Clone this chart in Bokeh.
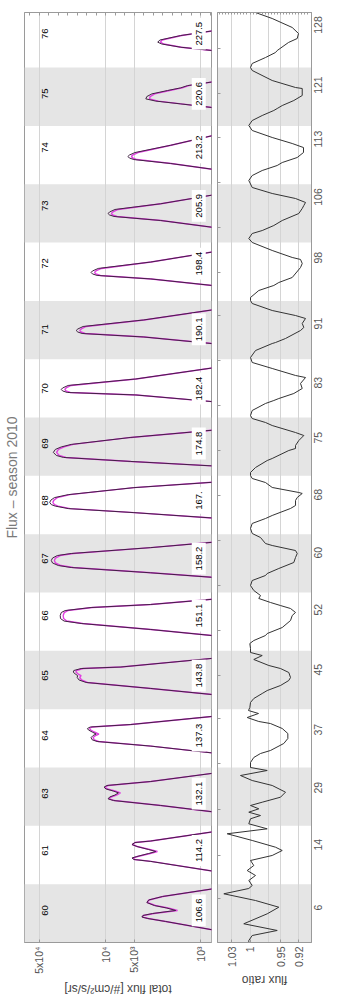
from math import pi
from bokeh.plotting import figure
from bokeh.models import (Range1d, FixedTicker, LinearAxis, LogAxis, Label,
                          ColumnDataSource, BoxAnnotation)
from bokeh.layouts import row, column
from bokeh.embed import file_html
from bokeh.resources import INLINE

FONT = "Liberation Sans"

# ---------------- data ----------------
band_ids = ["60", "61", "63", "64", "65", "66", "67", "68",
            "69", "70", "71", "72", "73", "74", "75", "76"]
band_values = ["106.6", "114.2", "132.1", "137.3", "143.8", "151.1", "158.2", "167.",
               "174.8", "182.4", "190.1", "198.4", "205.9", "213.2", "220.6", "227.5"]
tick_labels = ["6", "14", "29", "37", "45", "52", "60", "68",
               "75", "83", "91", "98", "106", "113", "121", "128"]
# centre of each run along the (band-index) time axis
tick_pos = [0.549, 1.577, 2.554, 3.549, 4.577, 5.606, 6.583, 7.578,
            8.555, 9.498, 10.51, 11.64, 12.63, 13.63, 14.55, 15.58]
minor_tick_pos = [0.754, 1.491, 2.28, 3.069, 3.84, 4.577, 5.349, 6.12, 6.892, 7.663,
                  8.435, 9.206, 9.978, 10.749, 11.486, 12.258, 13.03, 13.8, 14.55, 15.33]

flux_ticks = [1000, 5000, 10000, 50000]
flux_tick_text = {1000: "10³", 5000: "5x10³", 10000: "10⁴", 50000: "5x10⁴"}
ratio_ticks = [0.92, 0.95, 1.0, 1.03]
ratio_grid = [0.92, 0.95, 0.97, 1.0, 1.03]
ratio_tick_text = {0.92: "0.92", 0.95: "0.95", 1.0: "1", 1.03: "1.03"}

t_flux = [
    0.189, 0.360, 0.411, 0.437, 0.463, 0.497, 0.549, 0.591, 0.634, 0.686, 0.729, 0.789, 0.943,
    1.200, 1.390, 1.423, 1.449, 1.474, 1.526, 1.560, 1.594, 1.646, 1.680, 1.714, 1.740, 1.920,
    2.222, 2.349, 2.434, 2.463, 2.494, 2.528, 2.566, 2.597, 2.632, 2.663, 2.692, 2.760, 2.921,
    3.232, 3.367, 3.446, 3.475, 3.514, 3.549, 3.574, 3.609, 3.643, 3.669, 3.694, 3.737, 3.892,
    4.235, 4.355, 4.458, 4.500, 4.543, 4.577, 4.603, 4.637, 4.663, 4.697, 4.723, 4.886,
    5.246, 5.366, 5.469, 5.511, 5.554, 5.606, 5.657, 5.691, 5.743, 5.795, 5.898,
    6.249, 6.338, 6.429, 6.463, 6.506, 6.549, 6.591, 6.634, 6.669, 6.770, 6.875,
    7.267, 7.370, 7.439, 7.481, 7.507, 7.546, 7.584, 7.627, 7.678, 7.798, 7.901,
    8.162, 8.247, 8.316, 8.350, 8.402, 8.453, 8.496, 8.539, 8.659, 8.797,
    9.259, 9.387, 9.430, 9.456, 9.482, 9.507, 9.550, 9.661, 9.873,
    10.252, 10.381, 10.441, 10.466, 10.492, 10.518, 10.561, 10.673, 10.869,
    11.247, 11.376, 11.436, 11.462, 11.487, 11.513, 11.556, 11.666, 11.864,
    12.241, 12.378, 12.447, 12.473, 12.498, 12.524, 12.567, 12.665, 12.841,
    13.235, 13.355, 13.423, 13.449, 13.475, 13.500, 13.543, 13.668, 13.869,
    14.296, 14.377, 14.425, 14.463, 14.503, 14.549, 14.606, 14.652, 14.691, 14.777,
    15.275, 15.349, 15.404, 15.435, 15.472, 15.549, 15.652,
]
flux_total = [
    600, 2330, 3600, 4160, 4060, 3200, 1830, 2270, 3070, 3690, 3520, 2510, 600,
    600, 3350, 5050, 5290, 4700, 3520, 2970, 3520, 4700, 5290, 4920, 3350, 600,
    600, 2630, 8300, 9450, 9100, 8000, 7350, 8330, 9930, 10430, 9700, 3350, 600,
    600, 3350, 12330, 13900, 14270, 13590, 12640, 13900, 15200, 15600, 14600, 5430, 600,
    600, 3350, 16100, 19100, 20000, 19800, 21000, 22000, 21700, 18170, 6900, 600,
    600, 3350, 18170, 27500, 30000, 30200, 29450, 26800, 14270, 3350, 600,
    600, 3350, 23140, 31600, 36400, 37500, 36400, 32400, 23140, 3350, 600,
    600, 5050, 24900, 34000, 37500, 39000, 37900, 34800, 24900, 5050, 600,
    600, 5430, 28000, 33200, 35700, 34000, 29450, 23140, 5430, 600,
    600, 4811, 25470, 28500, 29450, 28500, 24900, 4811, 600,
    600, 3964, 17740, 19700, 20500, 19700, 17330, 3964, 600,
    600, 3350, 12330, 13800, 14270, 13800, 12000, 3350, 600,
    600, 2630, 8170, 9120, 9450, 9120, 7990, 2630, 600,
    600, 2064, 5050, 5630, 5835, 5630, 4925, 2064, 600,
    600, 1621, 2966, 3778, 3690, 3260, 2234, 1621, 1370, 600,
    600, 1621, 2565, 2830, 2690, 1621, 600,
]
flux_model = [
    600, 2330, 3550, 4100, 4000, 3100, 1750, 2200, 3000, 3650, 3500, 2500, 600,
    600, 3330, 4950, 5150, 4600, 3400, 2850, 3450, 4650, 5250, 4900, 3350, 600,
    600, 2630, 8100, 9200, 8800, 7700, 7000, 8000, 9600, 10100, 9400, 3350, 600,
    600, 3330, 11900, 13200, 13600, 12800, 11800, 13200, 14400, 14800, 14000, 5430, 600,
    600, 3330, 15600, 18000, 18800, 18200, 19500, 20600, 20400, 17300, 6900, 600,
    600, 3330, 17500, 25800, 27800, 28100, 27400, 25200, 13800, 3350, 600,
    600, 3330, 22000, 29700, 33900, 34800, 33900, 30300, 22000, 3350, 600,
    600, 5000, 23700, 31800, 34800, 36100, 35200, 32500, 23800, 5050, 600,
    600, 5400, 26300, 31000, 33000, 31500, 27500, 22000, 5430, 600,
    600, 4750, 23700, 26300, 27000, 26200, 23200, 4780, 600,
    600, 3900, 16500, 18200, 18800, 18100, 16100, 3940, 600,
    600, 3300, 11400, 12700, 13100, 12700, 11100, 3330, 600,
    600, 2600, 7600, 8450, 8700, 8400, 7400, 2620, 600,
    600, 2040, 4700, 5200, 5350, 5200, 4580, 2050, 600,
    600, 1600, 2800, 3460, 3400, 3050, 2120, 1560, 1330, 600,
    600, 1600, 2450, 2650, 2550, 1580, 600,
]

t_ratio = [
    0.000, 0.034, 0.120, 0.206, 0.321, 0.492, 0.605, 0.720, 0.835, 0.926, 0.977,
    1.063, 1.149, 1.234, 1.320, 1.406, 1.492, 1.577, 1.634, 1.749, 1.864, 1.949,
    2.035, 2.121, 2.177, 2.234, 2.292, 2.349, 2.405, 2.491, 2.577, 2.692, 2.777, 2.863, 2.949,
    3.000, 3.086, 3.172, 3.240, 3.292, 3.412, 3.497, 3.583, 3.669, 3.754, 3.789, 3.857, 3.926, 3.977,
    4.029, 4.115, 4.183, 4.269, 4.320, 4.406, 4.492, 4.543, 4.629, 4.697, 4.749, 4.852, 4.920, 4.972,
    5.040, 5.126, 5.177, 5.263, 5.297, 5.400, 5.520, 5.606, 5.658, 5.726, 5.777, 5.829, 5.898, 5.949,
    6.035, 6.120, 6.206, 6.292, 6.326, 6.412, 6.515, 6.601, 6.669, 6.720, 6.806, 6.840, 6.943,
    7.012, 7.098, 7.184, 7.269, 7.321, 7.441, 7.492, 7.578, 7.629, 7.698, 7.715, 7.801, 7.886, 7.955,
    8.006, 8.058, 8.143, 8.263, 8.298, 8.435, 8.469, 8.521, 8.606, 8.692, 8.743, 8.863, 8.915, 8.983,
    9.035, 9.121, 9.241, 9.292, 9.326, 9.412, 9.498, 9.584, 9.686, 9.721, 9.841, 9.944,
    10.029, 10.149, 10.269, 10.286, 10.355, 10.492, 10.544, 10.613, 10.698, 10.749, 10.835, 10.955,
    11.006, 11.058, 11.178, 11.264, 11.315, 11.401, 11.572, 11.641, 11.710, 11.744, 11.864,
    12.001, 12.069, 12.155, 12.206, 12.292, 12.378, 12.498, 12.584, 12.635, 12.687, 12.755, 12.841, 12.944,
    13.064, 13.149, 13.235, 13.321, 13.372, 13.458, 13.544, 13.629, 13.698, 13.801, 13.921,
    14.007, 14.092, 14.178, 14.264, 14.298, 14.349, 14.435, 14.521, 14.641, 14.658, 14.778, 14.950,
    15.001, 15.070, 15.172, 15.258, 15.292, 15.430, 15.498, 15.584, 15.687, 15.841, 15.944, 16.010,
]
ratio = [
    1.002, 1.002, 0.9964, 0.9554, 1.0102, 0.9718, 0.9528, 0.991, 1.0429, 1.002, 0.9964,
    1.002, 0.991, 1.0046, 0.9938, 0.9992, 0.9636, 0.9472, 0.9582, 0.9964, 1.0374, 0.9718,
    1.002, 0.9992, 0.9828, 1.002, 0.9856, 0.9992, 0.980, 0.950, 0.9418, 0.9636, 0.9964, 1.0156, 0.9718,
    0.9992, 0.9992, 0.9938, 0.9828, 0.9664, 0.9446, 0.938, 0.938, 0.9472, 0.9664, 0.9856, 1.0046, 0.9861, 1.0025,
    1.0003, 0.9992, 0.9938, 0.980, 0.9718, 0.950, 0.9364, 0.9336, 0.9364, 0.950, 0.9692, 0.9938, 0.980, 0.9992,
    0.9992, 1.0003, 0.9938, 0.9746, 0.9718, 0.9472, 0.9336, 0.9308, 0.9254, 0.9336, 0.950, 0.9664, 0.9856, 0.9828,
    0.9938, 0.9992, 0.9964, 0.9746, 0.9718, 0.9528, 0.9282, 0.9254, 0.9226, 0.9254, 0.9636, 0.9746, 0.9828,
    0.9964, 0.9992, 0.9964, 0.9746, 0.9636, 0.9336, 0.9254, 0.9254, 0.9226, 0.9144, 0.920, 0.9636, 0.9746, 0.9964,
    0.9992, 0.9992, 0.991, 0.9718, 0.9636, 0.9364, 0.9254, 0.9254, 0.920, 0.9118, 0.9254, 0.9636, 0.9746, 0.9964,
    0.9992, 0.9964, 0.9746, 0.961, 0.9528, 0.9282, 0.9144, 0.9172, 0.909, 0.9254, 0.9636, 0.9964,
    0.9992, 0.991, 0.9636, 0.9582, 0.9418, 0.9172, 0.9118, 0.9144, 0.909, 0.9254, 0.9636, 0.9964,
    0.9992, 0.9992, 0.9856, 0.961, 0.9528, 0.9308, 0.9172, 0.9144, 0.9172, 0.9308, 0.9636,
    0.9964, 1.002, 0.9964, 0.980, 0.961, 0.9472, 0.920, 0.9144, 0.9118, 0.909, 0.9254, 0.9636, 0.9964,
    1.002, 0.9964, 0.980, 0.9554, 0.9472, 0.9226, 0.9123, 0.9123, 0.9308, 0.9636, 0.9964,
    1.002, 0.9964, 0.980, 0.961, 0.9554, 0.9472, 0.9282, 0.9144, 0.9144, 0.9254, 0.9636, 0.9964,
    0.9992, 0.9964, 0.9746, 0.9582, 0.9554, 0.9369, 0.9226, 0.9205, 0.9308, 0.9636, 0.991, 0.9992,
]

# ---------------- layout constants ----------------
T_MIN, T_MAX = 0.0, 15.944
FLUX_LO, FLUX_HI = 767, 71900
R_LO, R_HI = 0.8992, 1.0533
BAND_FILL = "#e5e5e5"
GRID = "#d4d4d4"
FRAME = "#9a9a9a"
TICK_TXT = "#555555"
# unlabelled mirror ticks on the top edges
flux_edge_ticks = [10 ** (k / 10) for k in range(28, 50)]
ratio_edge_ticks = [round(0.895 + 0.005 * k, 3) for k in range(33)]


def style_bottom_axis(ax):
    ax.major_label_orientation = pi / 2
    ax.major_label_text_font = FONT
    ax.major_label_text_font_size = "10.5px"
    ax.major_label_text_color = TICK_TXT
    ax.major_label_standoff = 4
    ax.major_tick_in = 3
    ax.major_tick_out = 0
    ax.minor_tick_line_color = None
    ax.major_tick_line_color = FRAME
    ax.axis_line_color = FRAME


def style_edge_axis(ax):
    ax.minor_tick_in = 3
    ax.minor_tick_out = 0
    ax.minor_tick_line_color = FRAME
    ax.major_tick_line_color = None
    ax.major_label_standoff = 0
    ax.axis_line_color = FRAME


# ---------------- flux panel ----------------
p1 = figure(width=214, height=977, x_axis_type="log",
            x_range=Range1d(FLUX_HI, FLUX_LO), y_range=Range1d(T_MIN, T_MAX),
            output_backend="svg", toolbar_location=None, y_axis_location=None,
            title="Flux – season 2010", title_location="left",
            min_border_left=23, min_border_right=3, min_border_top=12, min_border_bottom=35)
p1.title.text_font = FONT
p1.title.text_font_size = "14px"
p1.title.text_font_style = "normal"
p1.title.text_color = "#7a7a7a"
p1.title.align = "center"
p1.title.standoff = 6
p1.title.vertical_align = "top"
p1.outline_line_color = FRAME
p1.ygrid.grid_line_color = None
p1.xgrid.ticker = FixedTicker(ticks=flux_ticks)
p1.xgrid.grid_line_color = GRID
p1.xaxis.ticker = FixedTicker(ticks=flux_ticks)
p1.xaxis.major_label_overrides = flux_tick_text
style_bottom_axis(p1.xaxis[0])
top1 = LogAxis(ticker=FixedTicker(ticks=[], minor_ticks=flux_edge_ticks))
style_edge_axis(top1)
p1.add_layout(top1, "above")

# ---------------- ratio panel ----------------
p2 = figure(width=133, height=970,
            x_range=Range1d(R_HI, R_LO), y_range=p1.y_range,
            output_backend="svg", toolbar_location=None, y_axis_location="right",
            min_border_left=3, min_border_right=36, min_border_top=12, min_border_bottom=28)
p2.outline_line_color = FRAME
p2.ygrid.grid_line_color = None
p2.xgrid.ticker = FixedTicker(ticks=ratio_grid)
p2.xgrid.grid_line_color = GRID
p2.xaxis.ticker = FixedTicker(ticks=ratio_ticks)
p2.xaxis.major_label_overrides = ratio_tick_text
style_bottom_axis(p2.xaxis[0])
top2 = LinearAxis(ticker=FixedTicker(ticks=[], minor_ticks=ratio_edge_ticks))
style_edge_axis(top2)
top2.minor_tick_in = 2
p2.add_layout(top2, "above")

p2.yaxis.ticker = FixedTicker(ticks=tick_pos)
p2.yaxis.major_label_overrides = {tp: lab for tp, lab in zip(tick_pos, tick_labels)}
p2.yaxis.major_label_orientation = pi / 2
p2.yaxis.major_label_text_font = FONT
p2.yaxis.major_label_text_font_size = "10.5px"
p2.yaxis.major_label_text_color = TICK_TXT
p2.yaxis.major_label_standoff = 7
p2.yaxis.major_tick_in = 0
p2.yaxis.major_tick_out = 0
p2.yaxis.minor_tick_line_color = None
p2.yaxis.axis_line_color = FRAME

# small unlabelled ticks along the inner edge of the ratio panel
minor_axis = LinearAxis(ticker=FixedTicker(ticks=[], minor_ticks=minor_tick_pos))
style_edge_axis(minor_axis)
p2.add_layout(minor_axis, "left")

# shaded bands (every other run)
for i in range(len(band_ids)):
    if i % 2 == 0:
        for p in (p1, p2):
            p.add_layout(BoxAnnotation(bottom=i, top=i + 1, fill_color=BAND_FILL, fill_alpha=1.0,
                                       line_color=None, level="image"))

src = ColumnDataSource(dict(t=t_flux, total=flux_total, model=flux_model))
p1.line(x="model", y="t", source=src, line_color="#e040e0", line_width=1.4)
p1.line(x="total", y="t", source=src, line_color="#402242", line_width=1.0)

rsrc = ColumnDataSource(dict(t=t_ratio, r=ratio))
p2.line(x="r", y="t", source=rsrc, line_color="#333333", line_width=1.0)

# run labels
ID_FLUX = 44000
VAL_FLUX = 1045
for tp, bid, bval in zip(tick_pos, band_ids, band_values):
    p1.add_layout(Label(x=ID_FLUX, y=tp, text=bid, angle=pi / 2, text_align="center",
                        text_baseline="middle", text_font=FONT, text_font_size="9.5px",
                        text_color="black"))
    kw = dict(x=VAL_FLUX, y=tp, text=bval, angle=pi / 2, text_align="center",
              text_baseline="middle", text_font=FONT, text_font_size="9.5px",
              text_color="black", background_fill_color="white", background_fill_alpha=1.0)
    try:
        lab = Label(padding=4, **kw)
    except AttributeError:
        lab = Label(**kw)
    p1.add_layout(lab)


# ---------------- strips holding the (upside-down) axis titles ----------------
def title_strip(width, height, x_range, left, right, x_axis_type="linear"):
    q = figure(width=width, height=height, x_range=x_range, y_range=Range1d(0, height),
               x_axis_type=x_axis_type, output_backend="svg", toolbar_location=None,
               x_axis_location=None, y_axis_location=None,
               min_border_left=left, min_border_right=right, min_border_top=0, min_border_bottom=0)
    q.outline_line_color = None
    q.xgrid.grid_line_color = None
    q.ygrid.grid_line_color = None
    return q


q1 = title_strip(214, 20, p1.x_range, 23, 3, x_axis_type="log")
q1.add_layout(Label(x=7430, y=9, text="total flux [#/cm²/s/sr]", angle=pi,
                    text_align="center", text_baseline="middle", text_font=FONT,
                    text_font_size="12px", text_color="#444444"))
q2 = title_strip(133, 27, p2.x_range, 3, 36)
q2.add_layout(Label(x=0.9762, y=17.5, text="flux ratio", angle=pi,
                    text_align="center", text_baseline="middle", text_font=FONT,
                    text_font_size="12px", text_color="#444444"))

layout = row(column(p1, q1), column(p2, q2))
open("out.html", "w").write(file_html(layout, INLINE))
